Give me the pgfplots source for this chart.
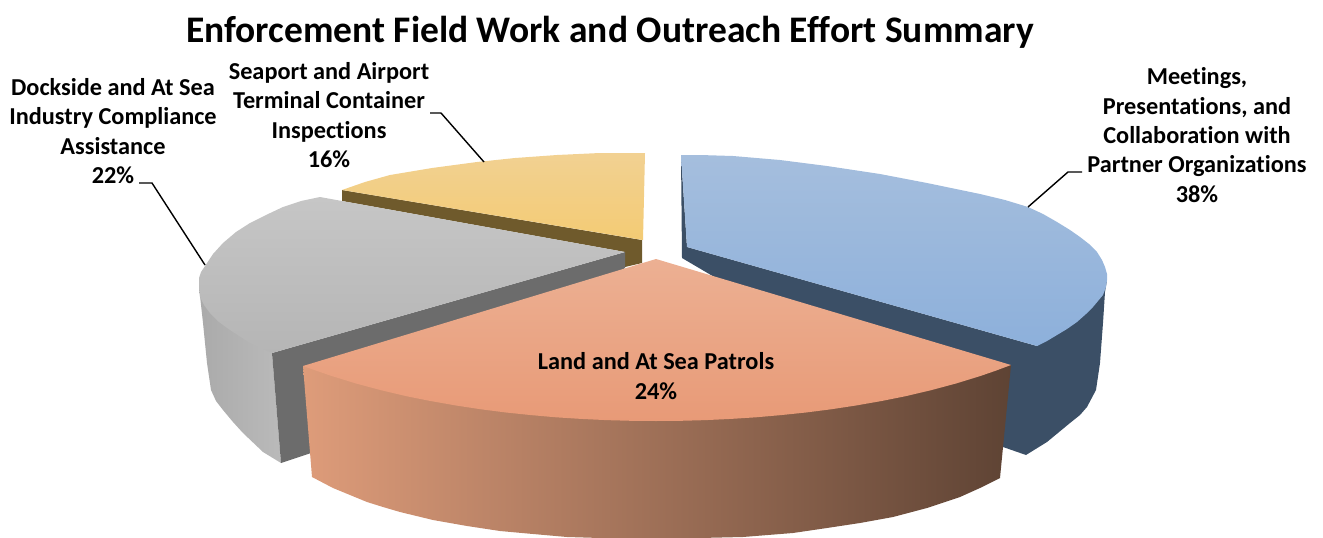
\documentclass[border=0pt]{standalone}
\usepackage{pgfplots}
\pgfplotsset{compat=1.18}
\usepackage{fontspec}
\setmainfont[RawFeature={-liga;-clig;-dlig}]{Carlito}
\definecolor{bluedark}{HTML}{3B4F66}
\definecolor{greydark}{HTML}{6C6C6C}
\definecolor{browndark}{HTML}{6F5A2C}
\definecolor{bluetopA}{RGB}{165,190,221}
\definecolor{bluetopB}{RGB}{141,176,219}
\definecolor{yelA}{RGB}{242,209,146}
\definecolor{yelB}{RGB}{243,203,116}
\definecolor{grsA}{RGB}{170,170,170}
\definecolor{grsB}{RGB}{186,186,186}
\definecolor{grtA}{RGB}{198,198,198}
\definecolor{grtB}{RGB}{181,181,181}
\definecolor{orsA}{RGB}{222,156,122}
\definecolor{orsB}{RGB}{94,67,52}
\definecolor{ortA}{RGB}{236,176,147}
\definecolor{ortB}{RGB}{232,154,119}
\begin{document}
\begin{tikzpicture}
\begin{axis}[
  scale only axis, width=1323pt, height=538pt,
  xmin=0, xmax=1323, ymin=0, ymax=538, y dir=reverse,
  hide axis, clip=false,
  every axis plot/.append style={no markers, draw=none}
]
\path (rel axis cs:0,0) rectangle (rel axis cs:1,1);
% blue side
\addplot[fill=bluedark] coordinates {(681,155)(682,258)(1003,447)(1026,455)(1047,442)(1070,423)(1080,415)(1087,407)(1096,390)(1100,363)(1103,323)(1105,292)(1107,280)(1037,346)(687,247)} --cycle;
% blue top
\addplot[top color=bluetopA, bottom color=bluetopB] coordinates {(681,155)(700,155)(733,156)(780,160)(827,166)(880,174)(927,183)(980,194)(1005,200)(1028,207)(1043,214)(1057,222)(1070,230)(1080,237)(1089,244)(1097,252)(1102,260)(1105,267)(1107,274)(1107,280)(1106,287)(1103,295)(1093,307)(1086,314)(1077,322)(1067,329)(1057,335)(1047,341)(1037,346)(687,247)} --cycle;
% yellow side
\addplot[fill=browndark] coordinates {(342,190)(342,201)(625,252)(625,267)(642,263)(642,240)} --cycle;
% yellow top
\addplot[top color=yelA, bottom color=yelB] coordinates {(645,153)(600,153)(557,155)(515,158)(477,162)(432,168)(390,175)(365,182)(342,190)(643,240)} --cycle;
% grey side
\addplot[left color=grsA, right color=grsB] coordinates {(199,287)(203,323)(207,363)(211,390)(216,401)(223,410)(233,422)(243,433)(263,452)(281,463)(272,353)} --cycle;
% grey cut
\addplot[fill=greydark] coordinates {(625,252)(272,353)(281,463)(320,450)(625,268)} --cycle;
% grey top
\addplot[top color=grtA, bottom color=grtB] coordinates {(320,197)(342,201)(625,252)(272,353)(250,343)(230,330)(219,322)(210,313)(204,305)(200,297)(199,287)(199,278)(201,272)(205,266)(213,254)(223,243)(236,232)(250,223)(266,215)(283,207)(301,201)} --cycle;
% orange side
\addplot[left color=orsA, right color=orsB] coordinates {(303,366)(312,477)(333,488)(350,495)(367,502)(383,507)(400,512)(433,520)(467,526)(500,531)(533,534)(567,537)(600,538)(650,538)(700,538)(743,537)(793,533)(827,528)(860,523)(893,517)(927,508)(960,497)(980,488)(1000,478)(1011,365)} --cycle;
% orange top
\addplot[top color=ortA, bottom color=ortB] coordinates {(656,259)(1011,365)(996,370.6)(981,375.8)(956,383.5)(931,390.2)(906,396.1)(881,401.1)(856,405.5)(831,409.3)(806,412.5)(781,415.1)(756,417.3)(731,418.9)(706,420.1)(681,420.8)(656,421)(631,420.8)(606,420.1)(581,418.9)(556,417.3)(531,415.1)(506,412.5)(481,409.3)(456,405.5)(431,401.1)(406,396.1)(381,390.2)(356,383.5)(331,375.8)(316,370.6)(303,366)} --cycle;
% leaders
\addplot[draw=black, line width=1.4pt] coordinates {(1082,172)(1068,172)(1028,207)};
\addplot[draw=black, line width=1.4pt] coordinates {(430,113)(441,113)(484,162)};
\addplot[draw=black, line width=1.4pt] coordinates {(139,183)(152,183)(205,265)};
% text
\node[font=\fontsize{37.5}{44}\selectfont\bfseries] at (axis cs:610,32) {Enforcement Field Work and Outreach Effort Summary};
\node[align=center, font=\fontsize{24.3}{29.3}\selectfont\bfseries] at (axis cs:1197,135) {Meetings,\\Presentations, and\\Collaboration with\\Partner Organizations\\38\%};
\node[align=center, font=\fontsize{24.3}{29.3}\selectfont\bfseries] at (axis cs:113,131) {Dockside and At Sea\\Industry Compliance\\Assistance\\22\%};
\node[align=center, font=\fontsize{24.3}{29.3}\selectfont\bfseries] at (axis cs:329,115) {Seaport and Airport\\Terminal Container\\Inspections\\16\%};
\node[align=center, font=\fontsize{24.3}{29.3}\selectfont\bfseries] at (axis cs:656,376) {Land and At Sea Patrols\\24\%};
\end{axis}
\end{tikzpicture}
\end{document}
